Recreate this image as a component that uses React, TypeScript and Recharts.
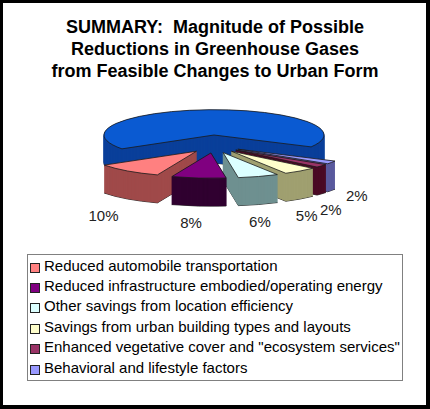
import React from "react";
import { PieChart, Pie, Cell, Sector, Legend } from "recharts";

const categories = [
  "Remaining emissions",
  "Reduced automobile transportation",
  "Reduced infrastructure embodied/operating energy",
  "Other savings from location efficiency",
  "Savings from urban building types and layouts",
  'Enhanced vegetative cover and "ecosystem services"',
  "Behavioral and lifestyle factors",
];
const values = [67, 10, 8, 6, 5, 2, 2];
const titleLines = [
  "SUMMARY:  Magnitude of Possible",
  "Reductions in Greenhouse Gases",
  "from Feasible Changes to Urban Form",
];

const topColors = ["#0a5ad2", "#ff8080", "#800080", "#dcffff", "#ffffcc", "#993366", "#9999ff"];
const sideColors = ["#0a3f9a", "#a04a4a", "#300030", "#6f9090", "#a0a070", "#4a0a25", "#5a5a9e"];
// painter's order: back slices first, front slices last
const drawOrder = [0, 6, 5, 4, 1, 3, 2];

const data = categories.map((name, i) => ({ name, value: values[i] }));

const FONT = '"Liberation Sans", Arial, Helvetica, sans-serif';
const FLAT = 0.23;
const DEPTH = 28;
const EXPLODE = 28;
const RAD = Math.PI / 180;

const idxOf = (props: any) => {
  const n = props?.payload?.name ?? props?.name;
  const i = categories.indexOf(n);
  return i >= 0 ? i : props?.index ?? 0;
};

const offsetFor = (index: number, mid: number) => {
  if (index === 0) return { dx: 0, dy: 0 };
  const c = Math.cos(mid * RAD);
  const s = -Math.sin(mid * RAD);
  return { dx: EXPLODE * c, dy: 10 + 8 * s };
};

const makeShape = (drawIndex: number) => (props: any) => {
  const index = idxOf(props);
  if (index !== drawIndex) return <g />;
  const { cx, cy, outerRadius, startAngle, endAngle } = props;
  const mid = (startAngle + endAngle) / 2;
  const { dx, dy } = offsetFor(index, mid);
  const tf = (off: number) =>
    `translate(${dx},${dy + off}) translate(0,${cy}) scale(1,${FLAT}) translate(0,${-cy})`;
  const side = sideColors[index];
  const top = topColors[index];
  const common = { cx, cy, innerRadius: 0, outerRadius, startAngle, endAngle };
  const layers: React.ReactNode[] = [];
  layers.push(
    <g key="bottom" transform={tf(DEPTH)}>
      <Sector {...common} fill={side} stroke="#1a1a1a" strokeWidth={0.8} vectorEffect="non-scaling-stroke" />
    </g>
  );
  for (let off = DEPTH - 0.5; off > 0; off -= 0.5) {
    layers.push(
      <g key={"s" + off} transform={tf(off)}>
        <Sector {...common} fill={side} stroke={side} strokeWidth={0.6} vectorEffect="non-scaling-stroke" />
      </g>
    );
  }
  layers.push(
    <g key="top" transform={tf(0)}>
      <Sector {...common} fill={top} stroke="#1a1a1a" strokeWidth={0.8} vectorEffect="non-scaling-stroke" />
    </g>
  );
  return <g>{layers}</g>;
};

let lastLabel: { x: number; y: number } | null = null;

const renderLabel = (props: any) => {
  const index = idxOf(props);
  if (index === 0) {
    lastLabel = null;
    return null;
  }
  const { cx, cy, startAngle, endAngle } = props;
  const mid = (startAngle + endAngle) / 2;
  const c = Math.cos(mid * RAD);
  const s = -Math.sin(mid * RAD);
  let x = cx - 4 + (c < 0 ? 170 : 155) * c;
  let y = cy + 53 + 35 * s;
  // simple collision avoidance with the previous label
  if (lastLabel && Math.abs(x - lastLabel.x) < 24 && Math.abs(y - lastLabel.y) < 15) {
    x = lastLabel.x + 26;
    y = lastLabel.y - 14;
  }
  lastLabel = { x, y };
  return (
    <text x={x} y={y} textAnchor="middle" dominantBaseline="central" fontSize={15} fontFamily={FONT} fill="#222">
      {`${values[index]}%`}
    </text>
  );
};

const renderLegend = () => {
  const names = categories.slice(1);
  return (
    <div
      style={{
        position: "relative",
        boxSizing: "border-box",
        width: 376,
        height: 127,
        border: "1px solid #808080",
        background: "#fff",
        fontFamily: FONT,
        fontSize: 15,
        color: "#000",
      }}
    >
      {names.map((name: string, i: number) => {
        const ci = categories.indexOf(name);
        return (
          <div
            key={name}
            style={{ position: "absolute", left: 0, top: 0.5 + i * 20.4, height: 20.4, lineHeight: "20.4px", whiteSpace: "nowrap" }}
          >
            <span
              style={{ position: "absolute", left: 2, top: 7, width: 8, height: 8, background: topColors[ci], border: "1px solid #222" }}
            />
            <span style={{ position: "absolute", left: 16 }}>{name}</span>
          </div>
        );
      })}
    </div>
  );
};

export default function App() {
  return (
    <div style={{ position: "relative", width: 430, height: 409, background: "#fff", overflow: "hidden" }}>
      <style>{"body{margin:0}"}</style>
      <div
        style={{
          position: "absolute",
          left: 0,
          top: 16,
          width: 430,
          textAlign: "center",
          fontFamily: FONT,
          fontWeight: "bold",
          fontSize: 18,
          lineHeight: "22px",
          color: "#000",
          whiteSpace: "pre",
        }}
      >
        {titleLines.map((t) => (
          <div key={t}>{t}</div>
        ))}
      </div>
      <div style={{ position: "absolute", left: 0, top: 0 }}>
        <PieChart width={430} height={409} margin={{ top: 0, right: 0, bottom: 0, left: 0 }}>
          {drawOrder.map((di, k) => (
            <Pie
              key={"pie" + di}
              data={data}
              dataKey="value"
              nameKey="name"
              cx={214}
              cy={135}
              innerRadius={0}
              outerRadius={110}
              startAngle={-28}
              endAngle={332}
              stroke="none"
              isAnimationActive={false}
              legendType="none"
              shape={makeShape(di)}
              label={k === drawOrder.length - 1 ? renderLabel : false}
              labelLine={false}
            >
              {data.map((d, i) => (
                <Cell key={d.name} fill={topColors[i]} />
              ))}
            </Pie>
          ))}
          <Legend
            content={renderLegend}
            wrapperStyle={{ position: "absolute", left: 27, top: 254, width: 376, height: 127, bottom: "auto", right: "auto" }}
          />
        </PieChart>
      </div>
      <div
        style={{
          position: "absolute",
          left: 0,
          top: 0,
          width: 430,
          height: 409,
          boxSizing: "border-box",
          borderStyle: "solid",
          borderColor: "#000",
          borderWidth: "3px 4px 4px 3px",
          pointerEvents: "none",
        }}
      />
    </div>
  );
}
